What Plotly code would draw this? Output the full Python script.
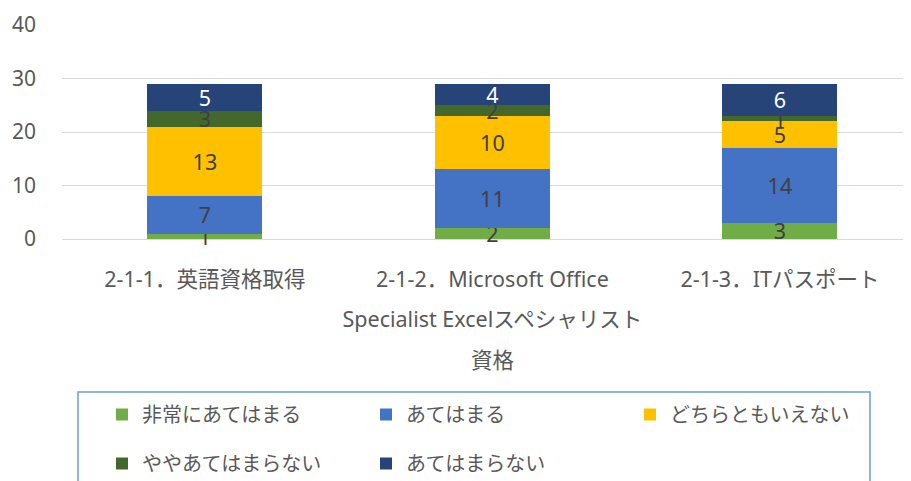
import plotly.graph_objects as go

categories = ["2-1-1．英語資格取得",
              "2-1-2．Microsoft Office<br>Specialist Excelスペシャリスト<br>資格",
              "2-1-3．ITパスポート"]
series_names = ["非常にあてはまる", "あてはまる", "どちらともいえない", "ややあてはまらない", "あてはまらない"]
very_applies = [1, 2, 3]
applies = [7, 11, 14]
neutral = [13, 10, 5]
somewhat_not = [3, 2, 1]
not_applies = [5, 4, 6]
y_ticks = [0, 10, 20, 30, 40]

series_values = [very_applies, applies, neutral, somewhat_not, not_applies]
colors = ["#70AD47", "#4472C4", "#FFC000", "#43682B", "#264478"]
text_colors = ["#404040", "#404040", "#404040", "#404040", "#FFFFFF"]
legend_ids = ["legend", "legend2", "legend3", "legend4", "legend5"]
# legend item positions (px in the figure): left x, top y
legend_pos = [(94, 387), (358, 387), (622, 387), (94, 436), (358, 436)]

FONT = "Segoe UI, Noto Sans, Noto Sans CJK JP, sans-serif"

def span(s, size=21.5):
    return "<br>".join(f'<span style="font-size:{size}px">{p}</span>' for p in s.split("<br>"))

fig = go.Figure()
xs = list(range(len(categories)))
for name, vals, col, tcol, lg in zip(series_names, series_values, colors, text_colors, legend_ids):
    fig.add_trace(go.Bar(
        x=xs, y=vals, name=name, marker=dict(color=col, line=dict(width=0)),
        width=0.4, text=[str(v) for v in vals], textposition="inside",
        insidetextanchor="middle", textangle=0, constraintext="none",
        textfont=dict(family=FONT, size=21.5, color=tcol), cliponaxis=False,
        legend=lg, hoverinfo="skip",
    ))

legends = {}
for lg, (lx, ly) in zip(legend_ids, legend_pos):
    legends[lg] = dict(orientation="h", xref="container", yref="container",
                       x=lx / 911, y=1 - ly / 481, xanchor="left", yanchor="top",
                       font=dict(family=FONT, size=20, color="#595959"),
                       bgcolor="rgba(0,0,0,0)")

fig.update_layout(
    width=911, height=481,
    margin=dict(l=54, r=10, t=17, b=250, autoexpand=False),
    barmode="stack",
    paper_bgcolor="white", plot_bgcolor="white",
    font=dict(family=FONT, color="#595959"),
    xaxis=dict(
        range=[-0.497, 2.449], tickvals=xs,
        ticktext=[span(c) for c in categories],
        tickfont=dict(family=FONT, size=31.5, color="#595959"),
        showgrid=False, showline=False, zeroline=False, ticks="",
        ticklabelstandoff=15, automargin=False,
    ),
    yaxis=dict(
        range=[0, 40], tickvals=y_ticks, showgrid=True, gridcolor="#D9D9D9",
        gridwidth=1.3, zeroline=True, zerolinecolor="#D9D9D9", zerolinewidth=1.3,
        showline=False, ticks="", tickfont=dict(family=FONT, size=21, color="#595959"),
        ticklabelstandoff=25, automargin=False,
    ),
    showlegend=True,
    shapes=[dict(type="rect", xref="paper", yref="paper",
                 x0=16 / 847, x1=808 / 847,
                 y0=-153 / 214, y1=-261 / 214,
                 line=dict(color="#6A9FD8", width=1.5), fillcolor="rgba(0,0,0,0)")],
    **legends,
)

fig.write_html("out.html")
